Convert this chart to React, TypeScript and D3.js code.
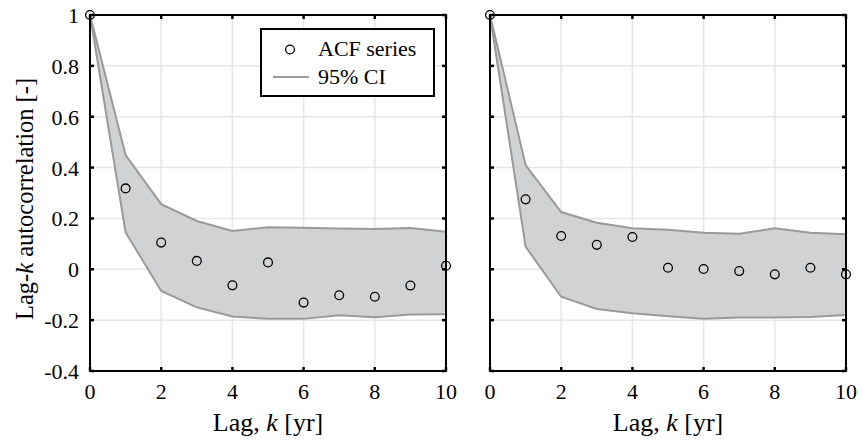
import React, { useEffect, useRef } from "react";
import * as d3 from "d3";

// Lags (years)
const lags = [0, 1, 2, 3, 4, 5, 6, 7, 8, 9, 10];

// Left panel: sample ACF and 95% confidence band
const acfLeft = [1, 0.318, 0.105, 0.033, -0.063, 0.027, -0.131, -0.102, -0.108, -0.064, 0.014];
const ciUpperLeft = [1, 0.449, 0.256, 0.19, 0.151, 0.165, 0.163, 0.16, 0.158, 0.162, 0.148];
const ciLowerLeft = [1, 0.145, -0.085, -0.15, -0.186, -0.195, -0.195, -0.181, -0.189, -0.178, -0.177];

// Right panel: sample ACF and 95% confidence band
const acfRight = [1, 0.275, 0.131, 0.096, 0.127, 0.006, 0.001, -0.007, -0.02, 0.006, -0.02];
const ciUpperRight = [1, 0.41, 0.225, 0.183, 0.161, 0.155, 0.144, 0.14, 0.161, 0.144, 0.138];
const ciLowerRight = [1, 0.089, -0.108, -0.156, -0.173, -0.185, -0.195, -0.19, -0.19, -0.188, -0.18];

const xTicks = [0, 2, 4, 6, 8, 10];
const yTicks = [-0.4, -0.2, 0, 0.2, 0.4, 0.6, 0.8, 1];

const legendLabels = ["ACF series", "95% CI"];
const xLabel = "Lag, ";
const yLabelPre = "Lag-";
const yLabelPost = " autocorrelation [-]";

const W = 862;
const H = 440;
const FONT = "Liberation Serif";

const panels = [
  { x0: 90, acf: acfLeft, up: ciUpperLeft, lo: ciLowerLeft, yLabels: true, legend: true },
  { x0: 490, acf: acfRight, up: ciUpperRight, lo: ciLowerRight, yLabels: false, legend: false },
];
const PW = 356;
const top = 15;
const bottom = 371;

export default function App() {
  const ref = useRef<SVGSVGElement>(null);

  useEffect(() => {
    const svg = d3.select(ref.current);
    svg.selectAll("*").remove();
    svg.append("rect").attr("width", W).attr("height", H).attr("fill", "#fff");

    const y = d3.scaleLinear().domain([-0.4, 1]).range([bottom, top]);

    panels.forEach((p) => {
      const x = d3.scaleLinear().domain([0, 10]).range([p.x0, p.x0 + PW]);
      const g = svg.append("g");

      // grid
      g.selectAll(".gx")
        .data(xTicks)
        .join("line")
        .attr("x1", (d) => x(d))
        .attr("x2", (d) => x(d))
        .attr("y1", top)
        .attr("y2", bottom)
        .attr("stroke", "#e6e6e6")
        .attr("stroke-width", 1.5);
      g.selectAll(".gy")
        .data(yTicks)
        .join("line")
        .attr("x1", x(0))
        .attr("x2", x(10))
        .attr("y1", (d) => y(d))
        .attr("y2", (d) => y(d))
        .attr("stroke", "#e6e6e6")
        .attr("stroke-width", 1.5);

      const data = lags.map((k, i) => ({ k, up: p.up[i], lo: p.lo[i], v: p.acf[i] }));

      // confidence band
      const area = d3
        .area<{ k: number; up: number; lo: number }>()
        .x((d) => x(d.k))
        .y0((d) => y(d.lo))
        .y1((d) => y(d.up));
      g.append("path").datum(data).attr("d", area).attr("fill", "#d1d2d4");
      const lineUp = d3.line<{ k: number; up: number }>().x((d) => x(d.k)).y((d) => y(d.up));
      const lineLo = d3.line<{ k: number; lo: number }>().x((d) => x(d.k)).y((d) => y(d.lo));
      [lineUp, lineLo].forEach((ln) =>
        g
          .append("path")
          .datum(data)
          .attr("d", ln as any)
          .attr("fill", "none")
          .attr("stroke", "#999a9c")
          .attr("stroke-width", 2)
      );

      // axes box
      g.append("rect")
        .attr("x", x(0))
        .attr("y", top)
        .attr("width", PW)
        .attr("height", bottom - top)
        .attr("fill", "none")
        .attr("stroke", "#000")
        .attr("stroke-width", 2);

      // inward ticks on all four sides
      const tl = 4;
      xTicks.forEach((t) => {
        g.append("line").attr("x1", x(t)).attr("x2", x(t)).attr("y1", bottom).attr("y2", bottom - tl).attr("stroke", "#000").attr("stroke-width", 2.5);
        g.append("line").attr("x1", x(t)).attr("x2", x(t)).attr("y1", top).attr("y2", top + tl).attr("stroke", "#000").attr("stroke-width", 2.5);
      });
      yTicks.forEach((t) => {
        g.append("line").attr("x1", x(0)).attr("x2", x(0) + tl).attr("y1", y(t)).attr("y2", y(t)).attr("stroke", "#000").attr("stroke-width", 2.5);
        g.append("line").attr("x1", x(10)).attr("x2", x(10) - tl).attr("y1", y(t)).attr("y2", y(t)).attr("stroke", "#000").attr("stroke-width", 2.5);
      });

      // ACF points
      g.selectAll(".pt")
        .data(data)
        .join("circle")
        .attr("cx", (d) => x(d.k))
        .attr("cy", (d) => y(d.v))
        .attr("r", 4.4)
        .attr("fill", "none")
        .attr("stroke", "#000")
        .attr("stroke-width", 1.3);

      // tick labels
      g.selectAll(".xl")
        .data(xTicks)
        .join("text")
        .attr("x", (d) => x(d))
        .attr("y", 399)
        .attr("text-anchor", "middle")
        .attr("font-family", FONT)
        .attr("font-size", 22)
        .text((d) => String(d));
      if (p.yLabels) {
        g.selectAll(".yl")
          .data(yTicks)
          .join("text")
          .attr("x", x(0) - 11)
          .attr("y", (d) => y(d) + 8)
          .attr("text-anchor", "end")
          .attr("font-family", FONT)
          .attr("font-size", 22)
          .text((d) => String(d));
      }

      // x axis label
      const xt = g
        .append("text")
        .attr("x", x(5))
        .attr("y", 431)
        .attr("text-anchor", "middle")
        .attr("font-family", FONT)
        .attr("font-size", 26);
      xt.append("tspan").text(xLabel);
      xt.append("tspan").attr("font-style", "italic").text("k");
      xt.append("tspan").text(" [yr]");

      if (p.yLabels) {
        const yt = g
          .append("text")
          .attr("transform", `translate(33, 199) rotate(-90)`)
          .attr("text-anchor", "middle")
          .attr("font-family", FONT)
          .attr("font-size", 24.5);
        yt.append("tspan").text(yLabelPre);
        yt.append("tspan").attr("font-style", "italic").text("k");
        yt.append("tspan").text(yLabelPost);
      }

      if (p.legend) {
        const lg = g.append("g");
        lg.append("rect")
          .attr("x", 261)
          .attr("y", 29)
          .attr("width", 173)
          .attr("height", 67)
          .attr("fill", "#fff")
          .attr("stroke", "#000")
          .attr("stroke-width", 2);
        lg.append("circle").attr("cx", 290).attr("cy", 49.5).attr("r", 4.4).attr("fill", "none").attr("stroke", "#000").attr("stroke-width", 1.3);
        lg.append("line").attr("x1", 273).attr("x2", 309).attr("y1", 77).attr("y2", 77).attr("stroke", "#999a9c").attr("stroke-width", 2);
        lg.selectAll(".lt")
          .data(legendLabels)
          .join("text")
          .attr("x", 318)
          .attr("y", (_, i) => 56 + i * 28)
          .attr("font-family", FONT)
          .attr("font-size", 22)
          .text((d) => d);
      }
    });
  }, []);

  return (
    <svg
      ref={ref}
      width={W}
      height={H}
      style={{ position: "absolute", left: 0, top: 0, display: "block" }}
    />
  );
}
